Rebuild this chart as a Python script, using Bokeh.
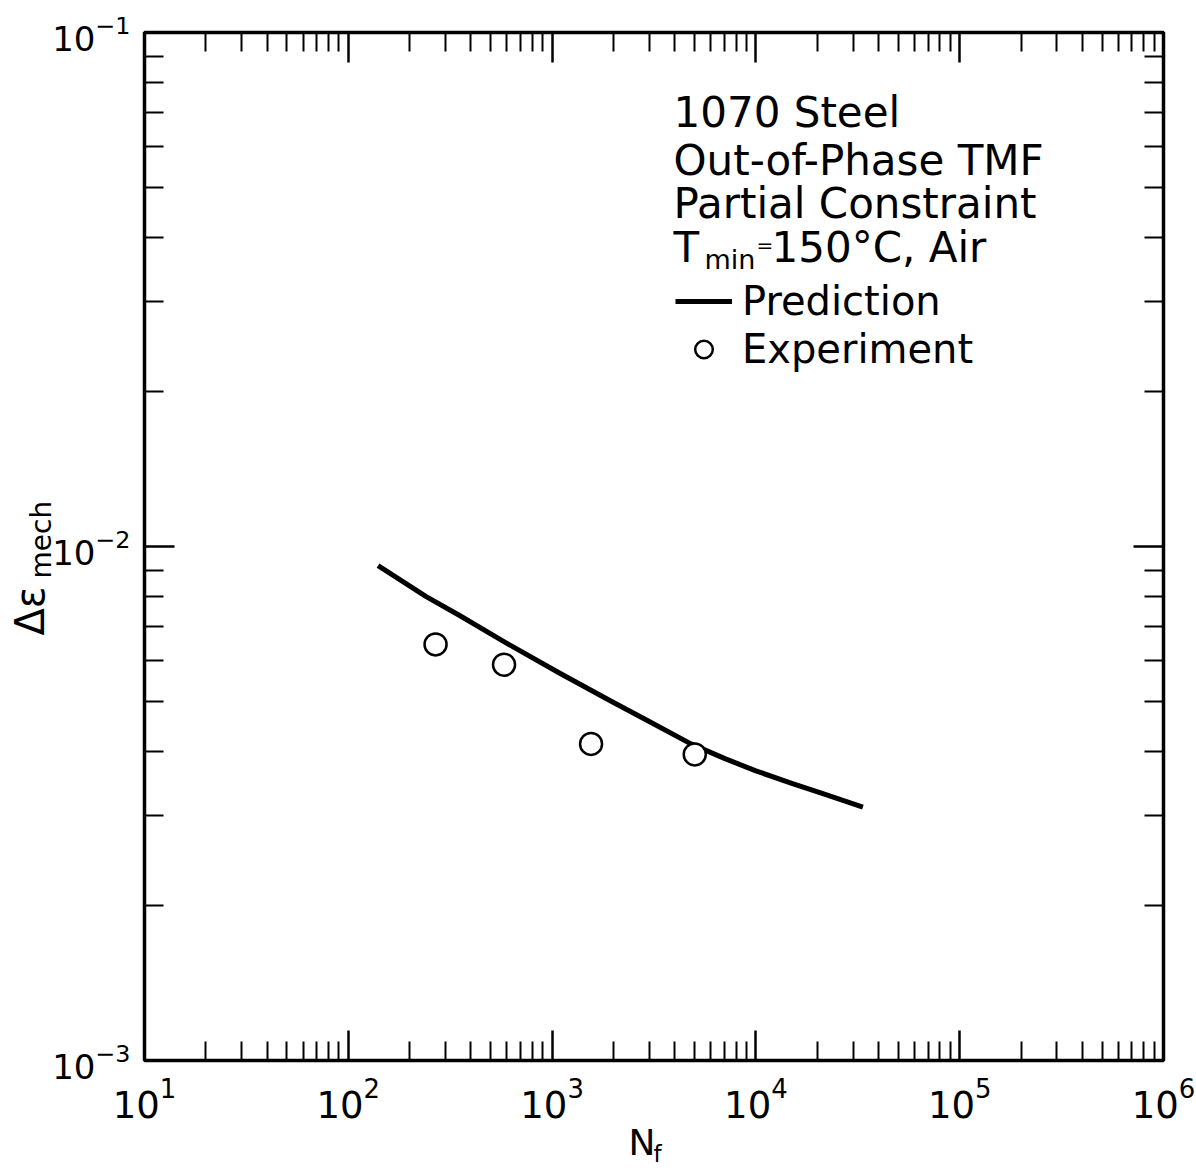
import math
from bokeh.plotting import figure
from bokeh.models import (LogAxis, FixedTicker, Label, Legend, LegendItem,
                          CustomJSTickFormatter, Range1d, BoxAnnotation)
from bokeh.embed import file_html
from bokeh.resources import INLINE

# ---- data ----
pred_N = [140, 240, 350, 600, 1080, 1950, 2950, 4800, 7000, 10000, 15000, 21500, 33500]
pred_eps = [0.00918, 0.00800, 0.00735, 0.00648, 0.00568, 0.00500, 0.00458, 0.00413,
            0.00387, 0.00366, 0.00346, 0.00330, 0.00311]
exp_N = [268, 581, 1553, 5012]
exp_eps = [0.00645, 0.00589, 0.00413, 0.00394]

x_ticks = [1e1, 1e2, 1e3, 1e4, 1e5, 1e6]
y_ticks = [1e-3, 1e-2, 1e-1]
header_lines = ["1070 Steel", "Out-of-Phase TMF", "Partial Constraint"]
legend_labels = ["Prediction", "Experiment"]

FONT = "DejaVu Sans"

# ---- layout geometry (canvas pixels) ----
W, H = 1196, 1170
FL, FR, FT, FB = 144, 1163, 32, 1060  # data box edges


def minor_of(ticks):
    out = []
    for t in ticks[:-1]:
        for m in range(2, 10):
            out.append(t * m)
    return out


# full-canvas frame; the data box is drawn by fixed-location axes
lx0, lx1 = math.log10(x_ticks[0]), math.log10(x_ticks[-1])
ly0, ly1 = math.log10(y_ticks[0]), math.log10(y_ticks[-1])
px_dec_x = (FR - FL) / (lx1 - lx0)
px_dec_y = (FB - FT) / (ly1 - ly0)
x_range = Range1d(10 ** (lx0 - FL / px_dec_x), 10 ** (lx1 + (W - FR) / px_dec_x))
y_range = Range1d(10 ** (ly0 - (H - FB) / px_dec_y), 10 ** (ly1 + FT / px_dec_y))

p = figure(width=W, height=H, x_axis_type="log", y_axis_type="log",
           x_range=x_range, y_range=y_range,
           x_axis_location=None, y_axis_location=None,
           output_backend="svg", toolbar_location=None,
           min_border=0, min_border_left=0, min_border_right=0,
           min_border_top=0, min_border_bottom=0)
p.background_fill_color = "white"
p.border_fill_color = "white"
p.outline_line_color = None
p.xgrid.visible = False
p.ygrid.visible = False

xt = FixedTicker(ticks=x_ticks, minor_ticks=minor_of(x_ticks))
yt = FixedTicker(ticks=y_ticks, minor_ticks=minor_of(y_ticks))
blank = CustomJSTickFormatter(code="return ''")

ax_b = LogAxis(fixed_location=y_ticks[0], ticker=xt, bounds=(x_ticks[0], x_ticks[-1]))
ax_t = LogAxis(fixed_location=y_ticks[-1], ticker=xt, bounds=(x_ticks[0], x_ticks[-1]), formatter=blank)
ax_l = LogAxis(fixed_location=x_ticks[0], ticker=yt, bounds=(y_ticks[0], y_ticks[-1]))
ax_r = LogAxis(fixed_location=x_ticks[-1], ticker=yt, bounds=(y_ticks[0], y_ticks[-1]), formatter=blank)
p.add_layout(ax_b, "below")
p.add_layout(ax_t, "above")
p.add_layout(ax_l, "left")
p.add_layout(ax_r, "right")

for ax in (ax_b, ax_t, ax_l, ax_r):
    ax.axis_line_color = None
    ax.major_tick_in = 30
    ax.major_tick_out = 0
    ax.minor_tick_in = 19
    ax.minor_tick_out = 0
    ax.major_tick_line_width = 2.5
    ax.minor_tick_line_width = 2
    ax.major_tick_line_color = "black"
    ax.minor_tick_line_color = "black"
    ax.major_label_text_font = FONT
    ax.major_label_text_color = "black"

ax_b.major_label_text_font_size = "37px"
ax_l.major_label_text_font_size = "34px"
ax_b.major_label_standoff = 16
ax_l.major_label_standoff = 14
for ax in (ax_t, ax_r):
    ax.major_label_standoff = 0
    ax.major_label_text_font_size = "1px"

# data box border
p.add_layout(BoxAnnotation(left=x_ticks[0], right=x_ticks[-1], bottom=y_ticks[0], top=y_ticks[-1],
                           fill_alpha=0, line_color="black", line_alpha=1.0, line_width=3.5,
                           level="overlay"))

# ---- data ----
line_r = p.line(pred_N, pred_eps, line_color="black", line_width=5, line_join="round")
pts_r = p.scatter(exp_N, exp_eps, marker="circle", size=22, fill_color="white",
                  line_color="black", line_width=2.5)

K = 0.36  # Bokeh places the alphabetic anchor ~0.36 em above the true baseline


def lab(text, cx, cy, size_px, angle=0.0):
    """Text placed in canvas pixels (cx = left start, cy = baseline, both from top-left)."""
    if angle:
        x, y = cx - K * size_px, H - cy
    else:
        x, y = cx, H - (cy - K * size_px)
    p.add_layout(Label(x=x, y=y, x_units="screen", y_units="screen", text=text,
                       angle=angle, text_font=FONT, text_font_size=f"{size_px}px",
                       text_color="black", text_baseline="alphabetic", text_align="left"))


# ---- header text ----
TX = 673
for txt, b in zip(header_lines, [127, 175, 218]):
    lab(txt, TX, b, 42)
lab("T", TX, 262, 42)
lab("min", 704, 269, 27)
lab("=", 756, 252, 20)
lab("150°C,  Air", 771, 262, 42)

legend = Legend(items=[LegendItem(label=legend_labels[0], renderers=[line_r]),
                       LegendItem(label=legend_labels[1], renderers=[pts_r])],
                location=(675, H - 372), orientation="vertical",
                glyph_width=57, glyph_height=44, label_standoff=10, spacing=2,
                padding=0, margin=0, border_line_color=None, background_fill_alpha=0,
                label_text_font=FONT, label_text_font_size="40px", label_text_color="black",
                label_height=44)
p.add_layout(legend, "center")

# ---- axis titles ----
lab("Δε", 44, 635, 40, angle=math.pi / 2)
lab("mech", 51, 578, 28, angle=math.pi / 2)
lab("N", 628, 1155, 36)
lab("f", 653, 1162, 23)

open("out.html", "w").write(file_html(p, INLINE))
